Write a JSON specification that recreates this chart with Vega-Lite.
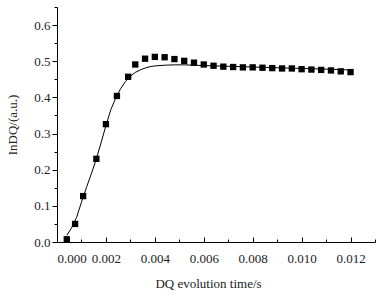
{
  "$schema": "https://vega.github.io/schema/vega-lite/v6.json",
  "width": 318,
  "height": 235,
  "autosize": "none",
  "padding": {"left": 57, "top": 7, "right": 9, "bottom": 57},
  "config": {
    "view": {"stroke": null},
    "axis": {"grid": false, "labelFont": "Times New Roman, Liberation Serif, serif", "titleFont": "Times New Roman, Liberation Serif, serif", "labelFontSize": 13, "titleFontSize": 13, "labelColor": "#222", "titleColor": "#222", "titleFontWeight": "normal", "domainColor": "#000", "tickColor": "#000", "domainWidth": 1, "tickWidth": 1}
  },
  "datasets": {
    "pts": [
      {"t": 0.0004, "v": 0.0075}, {"t": 0.00074, "v": 0.05}, {"t": 0.00107, "v": 0.127}, {"t": 0.00161, "v": 0.23},
      {"t": 0.0020, "v": 0.326}, {"t": 0.00245, "v": 0.404}, {"t": 0.00291, "v": 0.457}, {"t": 0.0032, "v": 0.491},
      {"t": 0.0036, "v": 0.507}, {"t": 0.0040, "v": 0.512}, {"t": 0.0044, "v": 0.511}, {"t": 0.0048, "v": 0.506},
      {"t": 0.0052, "v": 0.501}, {"t": 0.0056, "v": 0.496}, {"t": 0.0060, "v": 0.491}, {"t": 0.0064, "v": 0.4875},
      {"t": 0.0068, "v": 0.485}, {"t": 0.0072, "v": 0.484}, {"t": 0.0076, "v": 0.483}, {"t": 0.0080, "v": 0.483},
      {"t": 0.0084, "v": 0.482}, {"t": 0.0088, "v": 0.481}, {"t": 0.0092, "v": 0.480}, {"t": 0.0096, "v": 0.480},
      {"t": 0.0100, "v": 0.478}, {"t": 0.0104, "v": 0.477}, {"t": 0.0108, "v": 0.476}, {"t": 0.0112, "v": 0.4745},
      {"t": 0.0116, "v": 0.472}, {"t": 0.0120, "v": 0.470}
    ],
    "fit": [
      {"t": 0.0004, "v": 0.018}, {"t": 0.0006, "v": 0.040}, {"t": 0.0008, "v": 0.068}, {"t": 0.0010, "v": 0.110},
      {"t": 0.0012, "v": 0.150}, {"t": 0.0014, "v": 0.188}, {"t": 0.0016, "v": 0.228}, {"t": 0.0018, "v": 0.274},
      {"t": 0.0020, "v": 0.322}, {"t": 0.0022, "v": 0.366}, {"t": 0.0024, "v": 0.398}, {"t": 0.0026, "v": 0.424},
      {"t": 0.0028, "v": 0.444}, {"t": 0.0030, "v": 0.459}, {"t": 0.0032, "v": 0.469}, {"t": 0.0034, "v": 0.476},
      {"t": 0.0036, "v": 0.481}, {"t": 0.0038, "v": 0.485}, {"t": 0.0040, "v": 0.487}, {"t": 0.0044, "v": 0.489},
      {"t": 0.0048, "v": 0.490}, {"t": 0.0052, "v": 0.490}, {"t": 0.0056, "v": 0.489}, {"t": 0.0060, "v": 0.488},
      {"t": 0.0070, "v": 0.486}, {"t": 0.0080, "v": 0.484}, {"t": 0.0090, "v": 0.482}, {"t": 0.0100, "v": 0.480},
      {"t": 0.0110, "v": 0.478}, {"t": 0.0120, "v": 0.476}
    ]
  },
  "layer": [
    {
      "data": {"name": "fit"},
      "mark": {"type": "line", "color": "#000", "strokeWidth": 1, "clip": true},
      "encoding": {
        "x": {"field": "t", "type": "quantitative", "scale": {"domain": [0, 0.013], "nice": false},
              "axis": {"orient": "bottom", "values": [0.001, 0.003, 0.005, 0.007, 0.009, 0.011, 0.013], "labels": false, "domain": false, "tickSize": -3, "title": null}},
        "y": {"field": "v", "type": "quantitative", "scale": {"domain": [0, 0.65], "nice": false},
              "axis": {"orient": "left", "values": [0.05, 0.15, 0.25, 0.35, 0.45, 0.55, 0.65], "labels": false, "domain": false, "tickSize": 3, "title": null}}
      }
    },
    {
      "data": {"name": "pts"},
      "mark": {"type": "square", "color": "#000", "filled": true, "opacity": 1, "size": 40},
      "encoding": {
        "x": {"field": "t", "type": "quantitative",
              "axis": {"orient": "bottom", "values": [0, 0.002, 0.004, 0.006, 0.008, 0.01, 0.012], "format": ".3f", "tickSize": -5, "labelPadding": 15, "title": "DQ evolution time/s", "titlePadding": 12, "titleX": 151}},
        "y": {"field": "v", "type": "quantitative",
              "axis": {"orient": "left", "values": [0, 0.1, 0.2, 0.3, 0.4, 0.5, 0.6], "format": ".1f", "tickSize": 5, "labelPadding": 2, "title": "InDQ/(a.u.)", "titlePadding": 14}}
      }
    }
  ],
  "resolve": {"axis": {"x": "independent", "y": "independent"}}
}
